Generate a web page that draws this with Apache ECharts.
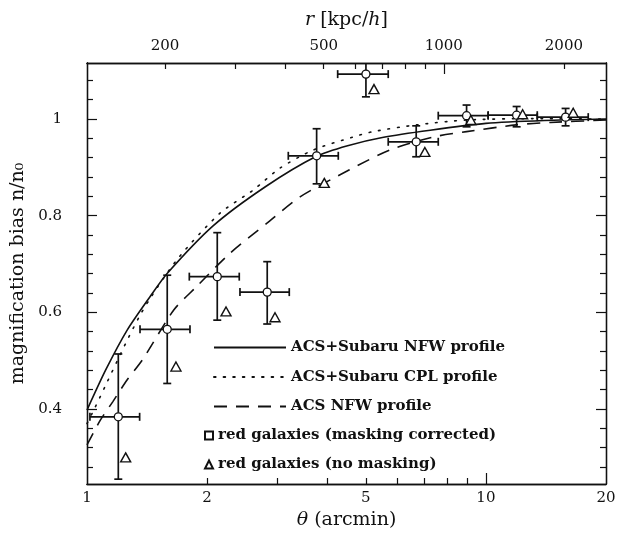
<!DOCTYPE html>
<html>
<head>
<meta charset="utf-8">
<script src="https://cdn.jsdelivr.net/npm/echarts@6/dist/echarts.min.js"></script>
<style>
  html, body { margin: 0; padding: 0; background: #fff; }
  #chart { width: 619px; height: 536px; }
</style>
</head>
<body>
<div id="chart"></div>
<script>
// red galaxies, masking corrected (circles) with error bars
const theta = [1.198, 1.589, 2.121, 2.83, 3.764, 5.003, 6.687, 8.944, 11.94, 15.84]
const bias = [0.384, 0.565, 0.674, 0.642, 0.924, 1.093, 0.953, 1.007, 1.008, 1.004]
const thetaLo = [1.017, 1.358, 1.805, 2.418, 3.196, 4.25, 5.69, 7.595, 10.13, 13.45]
const thetaHi = [1.355, 1.812, 2.408, 3.214, 4.265, 5.69, 7.595, 10.13, 13.45, 18.05]
const biasLo = [0.255, 0.453, 0.584, 0.576, 0.866, 1.046, 0.922, 0.984, 0.984, 0.986]
const biasHi = [0.514, 0.677, 0.765, 0.705, 0.98, 1.13, 0.986, 1.029, 1.026, 1.022]

// red galaxies, no masking (triangles)
const thetaTri = [1.25, 1.671, 2.231, 2.96, 3.934, 5.241, 7.03, 9.17, 12.36, 16.55]
const biasTri = [0.3, 0.488, 0.602, 0.59, 0.868, 1.062, 0.932, 0.998, 1.01, 1.013]

// model curves
const nfwTheta = [1, 1.114, 1.262, 1.44, 1.59, 2.07, 2.8, 3.76, 4.5, 5.5, 7.25, 10, 14, 20]
const nfwBias = [0.398, 0.481, 0.564, 0.633, 0.681, 0.779, 0.86, 0.923, 0.945, 0.962, 0.977, 0.991, 0.997, 1.0]
const cplTheta = [1, 1.04, 1.36, 1.677, 2.153, 2.61, 3.04, 3.69, 4.65, 5.21, 6.7, 8.94, 13.1, 20]
const cplBias = [0.37, 0.398, 0.595, 0.708, 0.805, 0.853, 0.898, 0.936, 0.963, 0.974, 0.988, 0.998, 1.001, 1.0]
const acsTheta = [1, 1.08, 1.16, 1.26, 1.38, 1.65, 1.88, 2.28, 2.82, 3.42, 4.55, 5.74, 7.38, 8.94, 11.9, 14.5, 20]
const acsBias = [0.326, 0.377, 0.415, 0.46, 0.503, 0.605, 0.653, 0.722, 0.784, 0.839, 0.895, 0.936, 0.963, 0.974, 0.988, 0.993, 0.998]

// tick labels
const thetaLabels = [1, 2, 5, 10, 20]
const thetaMinor = [2, 3, 4, 5, 6, 7, 8, 9]
const thetaMajor = [10]
const rLabels = [200, 500, 1000, 2000]
const rMinor = [200, 300, 400, 500, 600, 700, 800, 900, 2000]
const rMajor = [1000]
const biasLabels = [0.4, 0.6, 0.8, 1]
const biasMinor = [0.28, 0.32, 0.36, 0.44, 0.48, 0.52, 0.56, 0.64, 0.68, 0.72, 0.76, 0.84, 0.88, 0.92, 0.96, 1.04, 1.08]

const names = {
  nfw: 'ACS+Subaru NFW profile',
  cpl: 'ACS+Subaru CPL profile',
  acs: 'ACS NFW profile',
  corr: 'red galaxies (masking corrected)',
  raw: 'red galaxies (no masking)'
}

const font = 'DejaVu Serif'
const ink = '#111'
const thetaRange = { min: 1, max: 20 }
const rRange = { min: 127.5, max: 2550 }
const biasRange = { min: 0.245, max: 1.116 }

const zip = (xs, ys) => xs.map((x, i) => [x, ys[i]])
const plain = (v) => String(v)

const xAxisBase = (extra) => Object.assign({
  type: 'log',
  logBase: 10,
  axisLine: { show: true, lineStyle: { color: ink, width: 1.3 } },
  splitLine: { show: false },
  minorTick: { show: false }
}, extra)

const yAxisBase = (extra) => Object.assign({
  type: 'value',
  min: biasRange.min,
  max: biasRange.max,
  axisLine: { show: true, lineStyle: { color: ink, width: 1.3 } },
  splitLine: { show: false }
}, extra)

const tick = (values, length) => ({
  show: true, inside: true, length: length, customValues: values,
  lineStyle: { color: ink, width: 1.2 }
})

const legendText = { fontFamily: font, fontSize: 15, fontWeight: 'bold', color: ink }

const chart = echarts.init(document.getElementById('chart'), null, { renderer: 'canvas' })

chart.setOption({
  backgroundColor: '#fff',
  animation: false,
  grid: { left: 87, right: 13, top: 63, bottom: 52 },
  legend: [
    {
      data: [names.nfw, names.cpl, names.acs],
      orient: 'vertical',
      left: 208,
      top: 335,
      itemWidth: 72,
      itemHeight: 14,
      itemGap: 14.5,
      selectedMode: false,
      itemStyle: { opacity: 0 },
      textStyle: legendText
    },
    {
      data: [
        { name: names.corr, icon: 'rect' },
        { name: names.raw, icon: 'triangle' }
      ],
      orient: 'vertical',
      left: 199,
      top: 423,
      itemWidth: 8,
      itemHeight: 8,
      itemGap: 14,
      selectedMode: false,
      textStyle: legendText
    }
  ],
  xAxis: [
    xAxisBase(Object.assign({
      position: 'bottom',
      name: '{i|θ} (arcmin)',
      nameLocation: 'middle',
      nameGap: 27,
      nameTextStyle: {
        fontFamily: font, fontSize: 19, color: ink,
        rich: { i: { fontFamily: font, fontSize: 19, fontStyle: 'italic', color: ink } }
      },
      axisTick: tick(thetaMinor, 6),
      axisLabel: { customValues: thetaLabels, formatter: plain, margin: 7, fontFamily: font, fontSize: 15, color: ink }
    }, thetaRange)),
    xAxisBase(Object.assign({
      position: 'bottom',
      axisTick: tick(thetaMajor, 11),
      axisLabel: { show: false }
    }, thetaRange)),
    xAxisBase(Object.assign({
      position: 'top',
      name: '{i|r} [kpc/{i|h}]',
      nameLocation: 'middle',
      nameGap: 33,
      nameTextStyle: {
        fontFamily: font, fontSize: 19, color: ink,
        rich: { i: { fontFamily: font, fontSize: 19, fontStyle: 'italic', color: ink } }
      },
      axisTick: tick(rMinor, 6),
      axisLabel: { customValues: rLabels, formatter: plain, margin: 9, fontFamily: font, fontSize: 15, color: ink }
    }, rRange)),
    xAxisBase(Object.assign({
      position: 'top',
      axisTick: tick(rMajor, 11),
      axisLabel: { show: false }
    }, rRange))
  ],
  yAxis: [
    yAxisBase({
      position: 'left',
      name: 'magnification bias n/n₀',
      nameLocation: 'middle',
      nameGap: 53,
      nameRotate: 90,
      nameTextStyle: { fontFamily: font, fontSize: 19, color: ink },
      axisTick: tick(biasLabels, 10),
      axisLabel: { customValues: biasLabels, margin: 25, fontFamily: font, fontSize: 15, color: ink }
    }),
    yAxisBase({ position: 'left', axisTick: tick(biasMinor, 6), axisLabel: { show: false } }),
    yAxisBase({ position: 'right', axisTick: tick(biasLabels, 10), axisLabel: { show: false } }),
    yAxisBase({ position: 'right', axisTick: tick(biasMinor, 6), axisLabel: { show: false } })
  ],
  series: [
    {
      name: names.nfw,
      type: 'line',
      data: zip(nfwTheta, nfwBias),
      smooth: 0.25,
      symbol: 'none',
      lineStyle: { color: ink, width: 1.6, type: 'solid' },
      itemStyle: { color: ink },
      z: 3
    },
    {
      name: names.cpl,
      type: 'line',
      data: zip(cplTheta, cplBias),
      smooth: 0.25,
      symbol: 'none',
      lineStyle: { color: ink, width: 1.6, type: [1.6, 8], cap: 'round' },
      itemStyle: { color: ink },
      z: 3
    },
    {
      name: names.acs,
      type: 'line',
      data: zip(acsTheta, acsBias),
      smooth: 0.25,
      symbol: 'none',
      lineStyle: { color: ink, width: 1.6, type: [13, 9] },
      itemStyle: { color: ink },
      z: 3
    },
    {
      type: 'custom',
      clip: true,
      data: theta.map((t, i) => [t, bias[i], thetaLo[i], thetaHi[i], biasLo[i], biasHi[i]]),
      encode: { x: [0, 2, 3], y: [1, 4, 5] },
      renderItem: (params, api) => {
        const c = api.coord([api.value(0), api.value(1)])
        const xl = api.coord([api.value(2), api.value(1)])[0]
        const xr = api.coord([api.value(3), api.value(1)])[0]
        const yl = api.coord([api.value(0), api.value(4)])[1]
        const yh = api.coord([api.value(0), api.value(5)])[1]
        const cap = 4
        const st = { stroke: ink, lineWidth: 1.7 }
        const seg = (x1, y1, x2, y2) => ({ type: 'line', shape: { x1, y1, x2, y2 }, style: st })
        return {
          type: 'group',
          children: [
            seg(xl, c[1], xr, c[1]),
            seg(xl, c[1] - cap, xl, c[1] + cap),
            seg(xr, c[1] - cap, xr, c[1] + cap),
            seg(c[0], yl, c[0], yh),
            seg(c[0] - cap, yl, c[0] + cap, yl),
            seg(c[0] - cap, yh, c[0] + cap, yh)
          ]
        }
      },
      z: 4
    },
    {
      name: names.corr,
      type: 'scatter',
      data: zip(theta, bias),
      symbol: 'circle',
      symbolSize: 8,
      itemStyle: { color: '#fff', borderColor: ink, borderWidth: 1.3, opacity: 1 },
      z: 5
    },
    {
      name: names.raw,
      type: 'scatter',
      data: zip(thetaTri, biasTri),
      symbol: 'triangle',
      symbolSize: [10, 9],
      itemStyle: { color: '#fff', borderColor: ink, borderWidth: 1.4, opacity: 1 },
      z: 5
    }
  ]
})
</script>
</body>
</html>
